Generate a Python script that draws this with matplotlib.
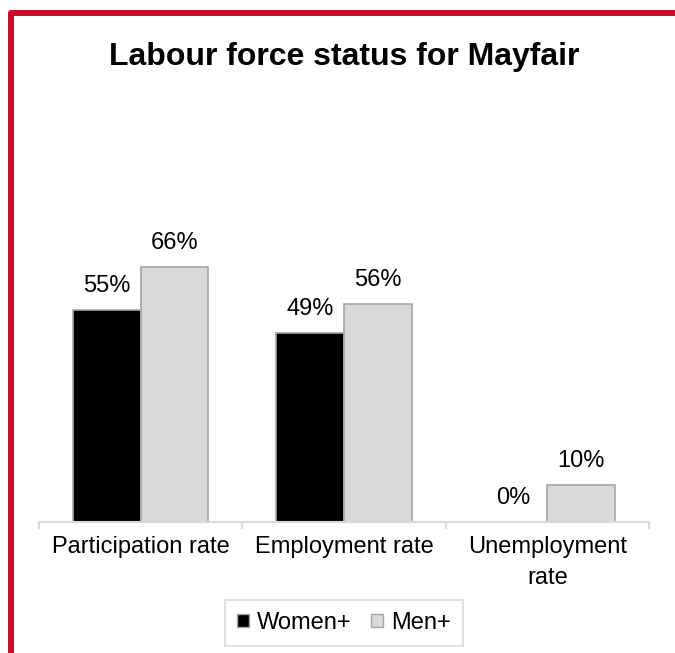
import numpy as np
import matplotlib
matplotlib.use("Agg")
import matplotlib.pyplot as plt
from matplotlib.lines import Line2D
from matplotlib.patches import Patch

plt.rcParams['font.family'] = ['Liberation Sans', 'DejaVu Sans']

# data
categories = ["Participation rate", "Employment rate", "Unemployment\nrate"]
series = ["Women+", "Men+"]
women = [55, 49, 0]
men = [66, 56.5, 9.6]
women_labels = ["55%", "49%", "0%"]
men_labels = ["66%", "56%", "10%"]

W, H = 675, 653
fig = plt.figure(figsize=(W / 100, H / 100), dpi=100)

# red frame on the left and top
frame = Line2D([11 / W, 11 / W, 1.0], [0.0, 1 - 13 / H, 1 - 13 / H],
               transform=fig.transFigure, color="#c8102e", lw=6 * 0.72,
               solid_joinstyle="round", solid_capstyle="butt")
fig.add_artist(frame)

# axes placed in pixels: x 39..649, baseline y=522, top (80%) y=213
ax = fig.add_axes([39 / W, (H - 522) / H, 610 / W, 309 / H])
ax.set_xlim(-0.5, 2.5)
ax.set_ylim(0, 80)

x = np.arange(len(categories))
bw = 0.333
b1 = ax.bar(x - bw / 2, women, bw, color="black", edgecolor="#a6a6a6", linewidth=1.2)
b2 = ax.bar(x + bw / 2, men, bw, color="#d9d9d9", edgecolor="#a6a6a6", linewidth=1.2)

for bars, labels in ((b1, women_labels), (b2, men_labels)):
    for rect, lab in zip(bars, labels):
        ax.annotate(lab, (rect.get_x() + rect.get_width() / 2, rect.get_height()),
                    xytext=(0, 17), textcoords="offset points",
                    ha="center", va="center", fontsize=17, color="#000000")

for s in ("top", "right", "left"):
    ax.spines[s].set_visible(False)
ax.spines["bottom"].set_color("#d9d9d9")
ax.spines["bottom"].set_linewidth(1.5)
ax.set_yticks([])

# tick marks at category boundaries, labels at centres
ax.set_xticks([-0.5, 0.5, 1.5, 2.5])
ax.set_xticklabels([])
ax.tick_params(axis="x", which="major", length=5, width=1.5, color="#d9d9d9")
ax.set_xticks(x, minor=True)
ax.set_xticklabels(categories, minor=True, fontsize=17, linespacing=1.55)
ax.tick_params(axis="x", which="minor", length=0, pad=10)

fig.text(344 / W, 1 - 57 / H, "Labour force status for Mayfair",
         ha="center", va="center", fontsize=23, fontweight="bold")

handles = [Patch(facecolor="black", edgecolor="#a6a6a6"),
           Patch(facecolor="#d9d9d9", edgecolor="#a6a6a6")]
leg = fig.legend(handles, series, loc="center", bbox_to_anchor=(344 / W, 1 - 623 / H),
                 ncol=2, fontsize=17, frameon=True, fancybox=False,
                 handlelength=0.5, handleheight=0.5, handletextpad=0.33,
                 columnspacing=0.85, borderpad=0.5, borderaxespad=0)
leg.get_frame().set_edgecolor("#d9d9d9")
leg.get_frame().set_linewidth(1.5)

fig.savefig("out.png", dpi=100)
